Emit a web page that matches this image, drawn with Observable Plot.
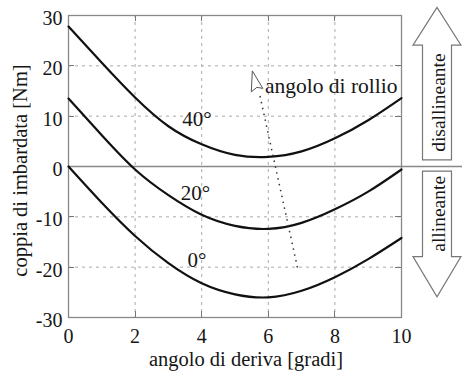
<!DOCTYPE html>
<html>
<head>
<meta charset="utf-8">
<script src="https://cdn.jsdelivr.net/npm/d3@7"></script>
<script src="https://cdn.jsdelivr.net/npm/@observablehq/plot@0.6"></script>
<style>
  body { margin: 0; background: #fff; }
  svg { display: block; }
  svg text { font-family: "Liberation Serif", "Times New Roman", serif; }
</style>
</head>
<body>
<div id="chart"></div>
<script>
// Yaw torque vs. drift angle for three roll angles
const drift = [0, 1, 2, 3, 4, 5, 6, 7, 8, 9, 10];
const yawRoll0  = [0, -7.2, -13.8, -19.2, -23.2, -25.4, -26.0, -24.7, -22.0, -18.4, -14.2];
const yawRoll20 = [13.5, 6.2, -0.6, -5.7, -9.6, -11.8, -12.4, -11.2, -8.5, -5.0, -0.6];
const yawRoll40 = [27.8, 20.6, 13.7, 8.0, 4.4, 2.3, 1.9, 3.0, 5.6, 9.2, 13.6];

const rollLabels = ["0°", "20°", "40°"];
const rollLabelX = [3.86, 3.81, 3.86];
const rollLabelY = [-18.6, -5.4, 9.4];

const xTicks = [0, 2, 4, 6, 8, 10];
const yTicks = [-30, -20, -10, 0, 10, 20, 30];
const xGrid = [2, 4, 6, 8];
const yGrid = [-20, -10, 10, 20];

const xTitle = "angolo di deriva [gradi]";
const yTitle = "coppia di imbardata [Nm]";

// "angolo di rollio" direction indicator
const rollNote = "angolo di rollio";
const rollNoteAt = [5.9, 16.0];
const rollCursorAt = [5.52, 19.0];
const rollPathFrom = [5.75, 14.0];
const rollPathTo = [6.88, -20.2];

// side arrows: [shaft end, head base, tip] in torque units
const upArrowSpan = [1.2, 24, 31.5];
const downArrowSpan = [-1.0, -18, -26];
const upArrowText = "disallineante";
const downArrowText = "allineante";

const rows = [
  ...drift.map((d, i) => ({drift: d, torque: yawRoll0[i], roll: rollLabels[0]})),
  ...drift.map((d, i) => ({drift: d, torque: yawRoll20[i], roll: rollLabels[1]})),
  ...drift.map((d, i) => ({drift: d, torque: yawRoll40[i], roll: rollLabels[2]}))
];
const labelRows = rollLabels.map((t, i) => ({x: rollLabelX[i], y: rollLabelY[i], t}));

const FONT = "'Liberation Serif', 'Times New Roman', serif";
const INK = "#161616";
const NS = "http://www.w3.org/2000/svg";
function el(name, attrs) {
  const e = document.createElementNS(NS, name);
  for (const k in attrs) e.setAttribute(k, attrs[k]);
  return e;
}

// inward ticks on all four sides of the frame
function frameTicks(index, scales, values, dim) {
  const g = el("g", {stroke: "#777", "stroke-width": 1});
  const L = dim.marginLeft, R = dim.width - dim.marginRight;
  const T = dim.marginTop, B = dim.height - dim.marginBottom;
  const len = 6;
  for (const t of xGrid) {
    const x = Math.round(scales.x(t)) + 0.5;
    g.append(el("line", {x1: x, x2: x, y1: B, y2: B - len}));
    g.append(el("line", {x1: x, x2: x, y1: T, y2: T + len}));
  }
  for (const t of yGrid) {
    const y = Math.round(scales.y(t)) + 0.5;
    g.append(el("line", {x1: L, x2: L + len, y1: y, y2: y}));
    g.append(el("line", {x1: R, x2: R - len, y1: y, y2: y}));
  }
  return g;
}

// zero line running through the plot and out under the side arrows
function zeroLine(index, scales, values, dim) {
  const y = Math.round(scales.y(0)) + 0.5;
  return el("line", {x1: dim.marginLeft, x2: dim.width, y1: y, y2: y, stroke: "#888", "stroke-width": 1.3});
}

// block arrows on the right: up = disallineante, down = allineante
function sideArrows(index, scales, values, dim) {
  const g = el("g", {});
  const cx = dim.width - 25;
  const shaft = 14.5, head = 24;
  const arrow = (span, label) => {
    const [a, b, c] = span.map(v => scales.y(v));
    const pts = [
      [cx - shaft, a], [cx - shaft, b], [cx - head, b], [cx, c],
      [cx + head, b], [cx + shaft, b], [cx + shaft, a]
    ];
    g.append(el("path", {
      d: "M" + pts.map(p => p.join(",")).join("L") + "Z",
      fill: "#fff", stroke: "#777", "stroke-width": 1.2
    }));
    const my = (a + b) / 2;
    const t = el("text", {
      x: 0, y: 0, transform: `translate(${cx + 1},${my}) rotate(-90)`,
      "text-anchor": "middle", "dominant-baseline": "central",
      "font-family": FONT, "font-size": 19.5, fill: INK
    });
    t.textContent = label;
    g.append(t);
  };
  arrow(upArrowSpan, upArrowText);
  arrow(downArrowSpan, downArrowText);
  return g;
}

// outlined pointer glyph at the top of the roll-angle path
const cursorSymbol = {
  draw(ctx) {
    ctx.moveTo(0, 0);
    ctx.lineTo(-1, 21);
    ctx.lineTo(4.5, 16.5);
    ctx.lineTo(10.5, 17.5);
    ctx.closePath();
  }
};

const chart = Plot.plot({
  width: 462,
  height: 376,
  marginLeft: 68,
  marginRight: 61,
  marginTop: 15,
  marginBottom: 59,
  style: {fontFamily: FONT, fontSize: "20px", color: INK, background: "#fff"},
  x: {domain: [0, 10]},
  y: {domain: [-30, 30]},
  marks: [
    Plot.gridX(xGrid, {stroke: "#aaa", strokeOpacity: 1, strokeDasharray: "3,4"}),
    Plot.gridY(yGrid, {stroke: "#aaa", strokeOpacity: 1, strokeDasharray: "3,4"}),
    frameTicks,
    zeroLine,
    Plot.frame({stroke: "#888", strokeWidth: 1.3}),
    Plot.axisX({ticks: xTicks, tickSize: 0, tickPadding: 11, tickFormat: d => String(d), fontSize: 20, fontFamily: FONT, fill: INK, label: null}),
    Plot.axisY({ticks: yTicks, tickSize: 0, tickPadding: 6, dy: 3, tickFormat: d => String(d), fontSize: 20, fontFamily: FONT, fill: INK, label: null}),
    Plot.text([xTitle], {frameAnchor: "bottom", dx: 11, dy: 48, fontSize: 20.5, fontFamily: FONT, fill: INK}),
    Plot.text([yTitle], {frameAnchor: "left", textAnchor: "middle", dx: -48, dy: 4, rotate: -90, fontSize: 20.5, fontFamily: FONT, fill: INK}),
    Plot.line(rows, {x: "drift", y: "torque", z: "roll", stroke: "#111", strokeWidth: 2.2, curve: "natural"}),
    Plot.text(labelRows, {x: "x", y: "y", text: "t", fontSize: 21, fontFamily: FONT, fill: INK}),
    Plot.link([0], {
      x1: () => rollPathFrom[0], y1: () => rollPathFrom[1],
      x2: () => rollPathTo[0], y2: () => rollPathTo[1],
      stroke: "#333", strokeWidth: 1.5, strokeDasharray: "1.5,4.5"
    }),
    Plot.dot([0], {x: () => rollCursorAt[0], y: () => rollCursorAt[1], symbol: cursorSymbol, fill: "#fff", stroke: "#555", strokeWidth: 1}),
    Plot.text([rollNote], {x: () => rollNoteAt[0], y: () => rollNoteAt[1], textAnchor: "start", fontSize: 21.5, fontFamily: FONT, fill: INK}),
    sideArrows
  ]
});
document.getElementById("chart").append(chart);
</script>
</body>
</html>
